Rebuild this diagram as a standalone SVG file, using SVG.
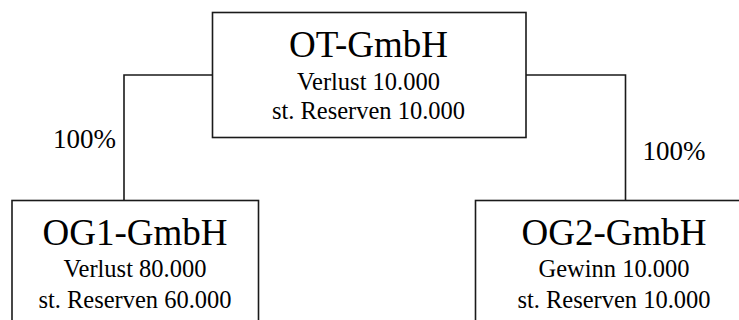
<svg xmlns="http://www.w3.org/2000/svg" width="739" height="320" viewBox="0 0 739 320">
  <style>
    .box { fill: #ffffff; stroke: #1a1a1a; stroke-width: 1.6; }
    .conn { fill: none; stroke: #1a1a1a; stroke-width: 1.6; }
    text { font-family: "Liberation Serif", "Times New Roman", serif; fill: #000000; text-anchor: middle; }
    .title { font-size: 37px; }
    .line { font-size: 24.5px; }
    .pct { font-size: 27px; }
  </style>
  <rect width="739" height="320" fill="#ffffff"/>

  <g id="connectors">
    <path class="conn" d="M212.5,75 H124 V200.5"/>
    <path class="conn" d="M526,75 H625.5 V200.5"/>
    <text class="pct" x="84.5" y="148">100%</text>
    <text class="pct" x="674" y="160">100%</text>
  </g>

  <g id="ot-gmbh">
    <rect class="box" x="212.5" y="12.5" width="313.5" height="125"/>
    <text class="title" x="368.5" y="57">OT-GmbH</text>
    <text class="line" x="368.5" y="90">Verlust 10.000</text>
    <text class="line" x="368.5" y="119">st. Reserven 10.000</text>
  </g>

  <g id="og1-gmbh">
    <rect class="box" x="12" y="200.5" width="246.5" height="140"/>
    <text class="title" x="135" y="244.5">OG1-GmbH</text>
    <text class="line" x="135" y="277">Verlust 80.000</text>
    <text class="line" x="135" y="307.5">st. Reserven 60.000</text>
  </g>

  <g id="og2-gmbh">
    <rect class="box" x="475.5" y="200.5" width="277" height="140"/>
    <text class="title" x="614" y="244.5">OG2-GmbH</text>
    <text class="line" x="614" y="277">Gewinn 10.000</text>
    <text class="line" x="614" y="307.5">st. Reserven 10.000</text>
  </g>
</svg>
